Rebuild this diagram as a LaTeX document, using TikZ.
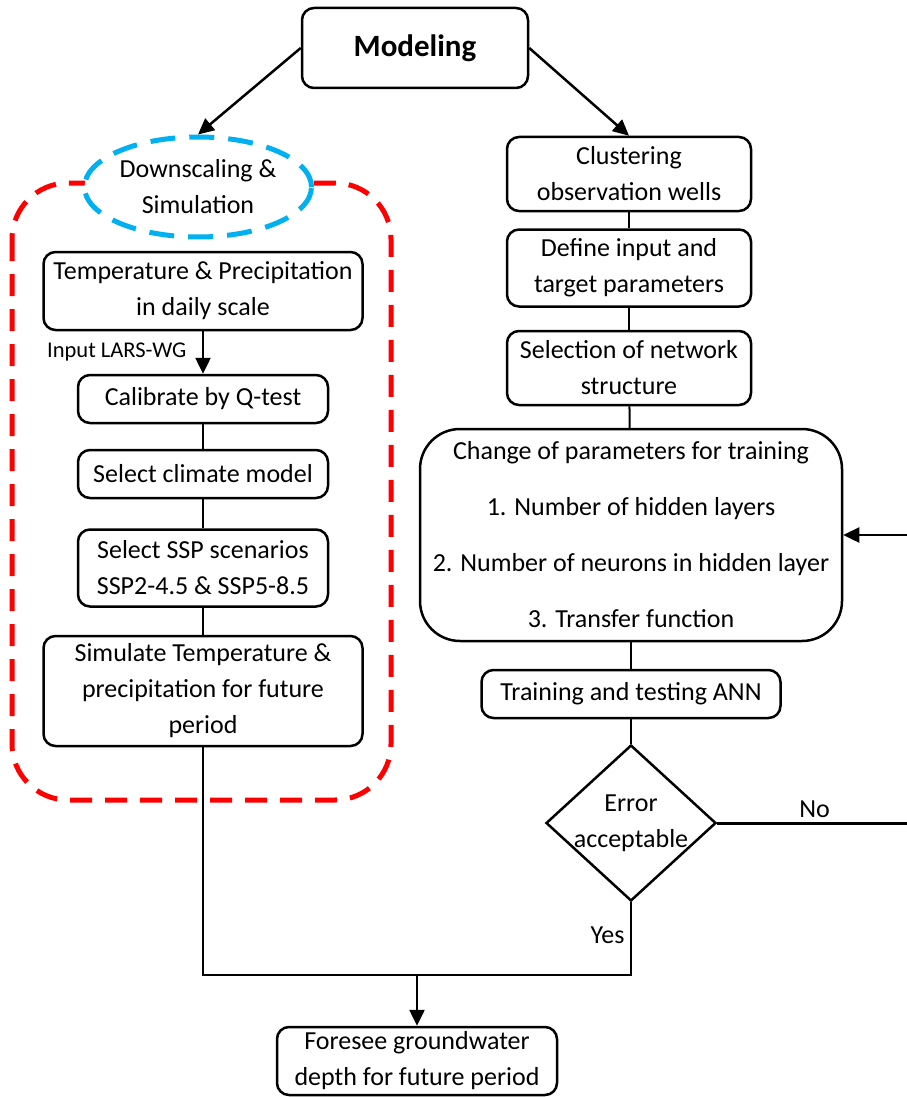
\documentclass[tikz,border=0pt]{standalone}
\usepackage{fontspec}
\setmainfont{Carlito}
\usetikzlibrary{shapes.geometric,arrows.meta,positioning}
\definecolor{dsblue}{RGB}{0,176,240}
\tikzset{
    every node/.style={font=\fontsize{26}{36}\selectfont},
    box/.style={draw, line width=2.5pt, rounded corners=12pt, align=center, inner sep=0pt},
    line/.style={line width=2pt},
    arr/.style={line width=2.5pt, -{Triangle[length=16pt,width=15pt]}}
}

\begin{document}
\begin{tikzpicture}[x=1pt,y=-1pt]
                \useasboundingbox (0,0) rectangle (907,1097);
                \node[box, minimum width=226, minimum height=80, font=\bfseries\fontsize{31}{36}\selectfont] (1) at (415,48) {Modeling};
                \draw[red, line width=5pt, dash pattern=on 22pt off 13pt, rounded corners=56pt] (12,183) rectangle (391,800);
                \node[ellipse, draw=dsblue, fill=white, line width=5pt, dash pattern=on 25pt off 14pt, minimum width=227, minimum height=100, align=center, inner sep=0pt] (2) at (198,187) {Downscaling \&\\Simulation};
                \node[box, minimum width=319, minimum height=78] (3) at (203,291) {Temperature \& Precipitation\\in daily scale};
                \node[box, minimum width=250, minimum height=48] (4) at (203,399) {Calibrate by Q-test};
                \node[box, minimum width=250, minimum height=48] (5) at (203,474) {Select climate model};
                \node[box, minimum width=250, minimum height=77] (6) at (203,568) {Select SSP scenarios\\SSP2-4.5 \& SSP5-8.5};
                \node[box, minimum width=319, minimum height=110] (7) at (203,691) {Simulate Temperature \&\\precipitation for future\\period};
                \node[box, minimum width=280, minimum height=68] (8) at (417,1061) {Foresee groundwater\\depth for future period};
                \node[box, minimum width=244, minimum height=74] (9) at (629,174) {Clustering\\observation wells};
                \node[box, minimum width=244, minimum height=77] (10) at (629,268) {Define input and\\target parameters};
                \node[box, minimum width=244, minimum height=74] (11) at (629,368) {Selection of network\\structure};
                \node[box, rounded corners=40pt, minimum width=422, minimum height=212] (12) at (631,535) {Change of parameters for training\\[20pt]1. Number of hidden layers\\[20pt]2. Number of neurons in hidden layer\\[20pt]3. Transfer function};
                \node[box, minimum width=299, minimum height=48] (13) at (631,694) {Training and testing ANN};
                \node[diamond, draw, line width=2.5pt, minimum width=170, minimum height=156, inner sep=0pt] (14) at (631,823) {};
                \node[align=center] (14t) at (14) {Error\\acceptable};
                \coordinate (j) at (417,975);
                \coordinate (r) at (912,823);
                \draw[arr] (1.west) -- (2.north);
                \draw[arr] (1.east) -- (9.north);
                \draw[arr] (3) -- node[left=12pt, font=\fontsize{22.5}{26}\selectfont] (lars) {Input LARS-WG} (4);
                \draw[line] (4) -- (5);
                \draw[line] (5) -- (6);
                \draw[line] (6) -- (7);
                \draw[line] (9) -- (10);
                \draw[line] (10) -- (11);
                \draw[line] (11) -- (12);
                \draw[line] (12) -- (13);
                \draw[line] (13) -- (14);
                \draw[line, line width=2.5pt] (7.south) -- (7.south |- j) -- (14.south |- j) -- node[pos=0.55, left=2pt] (yes) {Yes} (14.south);
                \draw[arr] (j) -- (8.north);
                \draw[line, line width=3pt] (14.east) -- node[above=0pt, pos=0.5] (no) {No} (r);
                \draw[arr] (r) -- (r |- 12.east) -- (12.east);
            \end{tikzpicture}
\end{document}
